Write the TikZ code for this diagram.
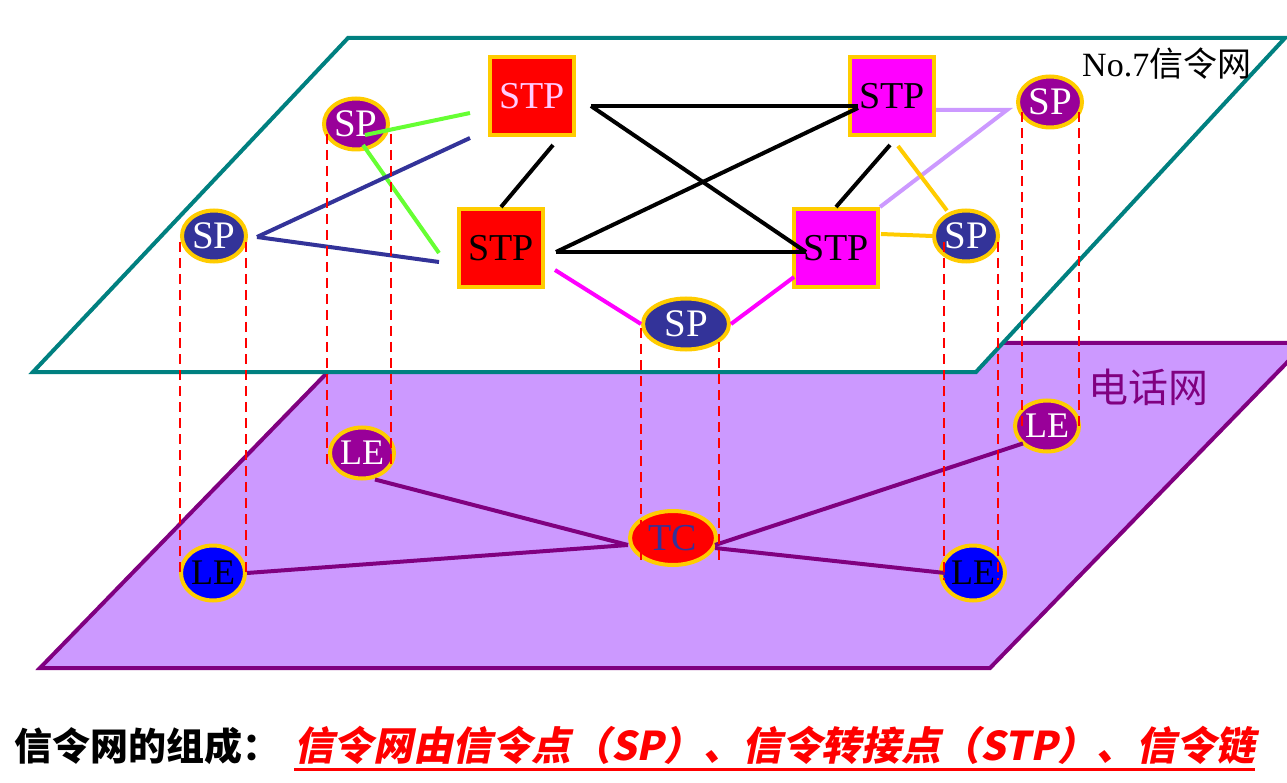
\documentclass[tikz,border=0pt]{standalone}
\usepackage{fontspec}
\setmainfont{Liberation Serif}
\newfontfamily\cjk{Noto Sans CJK SC}
\newfontfamily\cjkslant[FakeSlant=0.2]{Noto Sans CJK SC}
\usetikzlibrary{shapes.geometric}
\definecolor{gold}{HTML}{FFCC00}
\definecolor{planeteal}{HTML}{008080}
\definecolor{phonefill}{HTML}{CC99FF}
\definecolor{phoneline}{HTML}{800080}
\definecolor{sppurple}{HTML}{990099}
\definecolor{spblue}{HTML}{333399}
\definecolor{leblue}{HTML}{0000FF}
\definecolor{stppink}{HTML}{FFCCFF}
\definecolor{stpmagenta}{HTML}{FF00FF}
\definecolor{lime}{HTML}{66FF33}
\begin{document}
\begin{tikzpicture}[x=1pt,y=-1pt,
  stp/.style={rectangle,draw=gold,line width=4pt,minimum width=84pt,minimum height=78pt,inner sep=0pt,font=\fontsize{38}{40}\selectfont},
  sp/.style={ellipse,draw=gold,line width=4pt,minimum width=64pt,minimum height=51pt,inner sep=0pt,text=white,font=\fontsize{39}{40}\selectfont},
  le/.style={sp,font=\fontsize{36}{38}\selectfont},
  link/.style={line width=4pt},
  vline/.style={red,line width=2.2pt,dash pattern=on 10pt off 6pt}]
  \useasboundingbox (0,0) rectangle (1287,783);
  \draw[draw=phoneline,fill=phonefill,line width=4pt] (40,668) -- (990,668) -- (1306,343) -- (356,343) -- cycle;
  \draw[draw=planeteal,fill=white,line width=4pt] (33,372) -- (348,38) -- (1285,38) -- (976,372) -- cycle;
  \node[stp,fill=red,text=stppink] (stpA) at (532,96) {STP};
  \node[stp,fill=red] (stpB) at (501,248) {STP};
  \node[stp,fill=stpmagenta] (stpC) at (892,96) {STP};
  \node[stp,fill=stpmagenta] (stpD) at (836,248) {STP};
  \node[sp,fill=sppurple] (spA) at (356,124) {SP};
  \node[sp,fill=spblue] (spB) at (214,236) {SP};
  \node[sp,fill=spblue,minimum width=86pt] (spC) at (686,324) {SP};
  \node[sp,fill=sppurple] (spD) at (1050,102) {SP};
  \node[sp,fill=spblue] (spE) at (966,236) {SP};
  \node[le,fill=sppurple] (leA) at (362,453) {LE};
  \node[le,fill=leblue,text=black,minimum height=55pt] (leB) at (213,573) {LE};
  \node[le,fill=sppurple] (leC) at (1047,426) {LE};
  \node[le,fill=leblue,text=black,minimum height=55pt] (leD) at (973,573) {LE};
  \node[sp,fill=red,text=spblue,minimum width=86pt,minimum height=54pt,font=\fontsize{38}{40}\selectfont] (tc) at (673,538) {TC};
  \draw[link] ([shift={(15,10)}]stpA.east) -- ([shift={(10,10)}]stpC.west);
  \draw[link] ([shift={(15,10)}]stpA.east) -- ([shift={(14,4)}]stpD.west);
  \draw[link] ([shift={(11,4)}]stpB.east) -- ([shift={(10,12)}]stpC.west);
  \draw[link] ([shift={(11,4)}]stpB.east) -- ([shift={(14,4)}]stpD.west);
  \draw[link] ([shift={(21,8)}]stpA.south) -- (stpB.north);
  \draw[link] ([shift={(-2,8)}]stpC.south) -- (stpD.north);
  \draw[link,lime] ([shift={(9,11)}]spA.center) -- ([shift={(-18,17)}]stpA.west);
  \draw[link,lime] ([shift={(7,21)}]spA.center) -- ([shift={(-18,5)}]stpB.west);
  \draw[link,spblue] ([shift={(9,1)}]spB.east) -- ([shift={(-18,1)}]stpA.south west);
  \draw[link,spblue] ([shift={(9,1)}]spB.east) -- ([shift={(-18,14)}]stpB.west);
  \draw[link,stpmagenta] ([shift={(10,22)}]stpB.east) -- (spC.west);
  \draw[link,stpmagenta] (spC.east) -- ([shift={(2,-12)}]stpD.south west);
  \draw[link,phonefill] ([shift={(0,14)}]stpC.east) -- ([shift={(-9,8)}]spD.west) -- (stpD.north east);
  \draw[link,gold] ([shift={(6,9)}]stpC.south) -- ([shift={(5,-6)}]spE.north west);
  \draw[link,gold] ([shift={(1,-14)}]stpD.east) -- (spE.west);
  \draw[link,phoneline] ([shift={(13,-1)}]leA.south) -- ([shift={(0,7)}]tc.west);
  \draw[link,phoneline] (leB.east) -- ([shift={(0,7)}]tc.west);
  \draw[link,phoneline] ([shift={(-3,7)}]tc.east) -- ([shift={(0,-2)}]leC.south west);
  \draw[link,phoneline] ([shift={(-3,10)}]tc.east) -- ([shift={(6,0)}]leD.west);
  \draw[vline] ([shift={(5,10)}]spA.west) -- ([shift={(5,17)}]spA.west |- leA.center);
  \draw[vline] ([shift={(1,10)}]spA.east) -- ([shift={(1,17)}]spA.east |- leA.center);
  \draw[vline] ([shift={(0,6)}]spB.west) -- ([shift={(0,2)}]spB.west |- leB.center);
  \draw[vline] ([shift={(-2,6)}]spB.east) -- ([shift={(-2,2)}]spB.east |- leB.center);
  \draw[vline] ([shift={(0,4)}]spC.west) -- ([shift={(0,22)}]spC.west |- tc.center);
  \draw[vline] ([shift={(-12,18)}]spC.east) -- ([shift={(-12,22)}]spC.east |- tc.center);
  \draw[vline] ([shift={(6,10)}]spD.west) -- ([shift={(6,4)}]spD.west |- leC.center);
  \draw[vline] ([shift={(-5,10)}]spD.east) -- ([shift={(-5,4)}]spD.east |- leC.center);
  \draw[vline] ([shift={(12,6)}]spE.west) -- ([shift={(12,7)}]spE.west |- leD.center);
  \draw[vline] ([shift={(-2,6)}]spE.east) -- ([shift={(-2,7)}]spE.east |- leD.center);
  \node[anchor=base west,inner sep=0pt,font=\fontsize{34}{36}\selectfont] (titleA) at (1082,77) {No.7{\cjk 信令网}};
  \node[inner sep=0pt,text=phoneline,font=\cjk\fontsize{40}{42}\selectfont] (titleB) at (1148,387) {电话网};
  \node[anchor=base west,inner sep=0pt,font=\cjk\bfseries\fontsize{38}{40}\selectfont] (capA) at (14,760) {信令网的组成：};
  \node[anchor=base west,inner sep=0pt,text=red,font=\cjkslant\bfseries\fontsize{39.6}{41}\selectfont] (capB) at (294,760) {信令网由信令点（SP）、信令转接点（STP）、信令链};
  \draw[red,line width=3pt] ([yshift=-9pt]capB.base west) -- ([yshift=-9pt]capB.base east);
\end{tikzpicture}
\end{document}
